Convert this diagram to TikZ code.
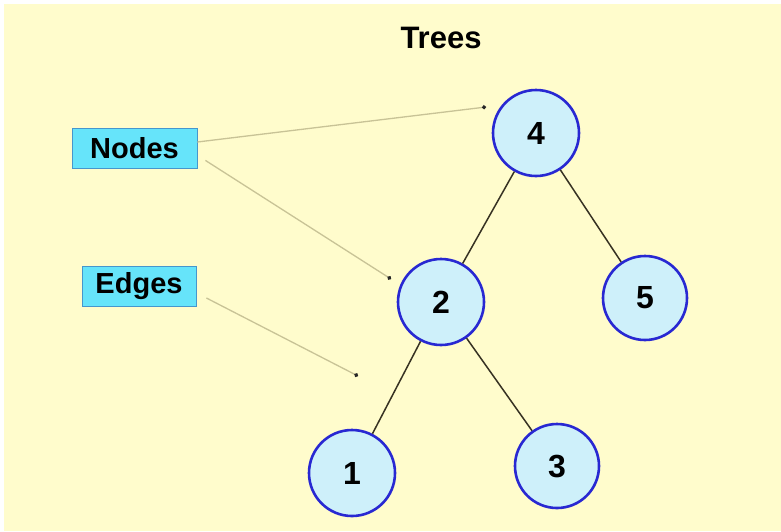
\documentclass[tikz,border=0pt]{standalone}
\usepackage{fontspec}
\setmainfont{Liberation Sans}
\usetikzlibrary{arrows.meta}
\definecolor{paper}{RGB}{255,252,204}
\definecolor{labelfill}{RGB}{102,228,250}
\definecolor{labeledge}{RGB}{70,150,205}
\definecolor{vertexfill}{RGB}{206,240,250}
\definecolor{vertexedge}{RGB}{40,40,210}
\definecolor{pointer}{RGB}{200,195,150}
\definecolor{branch}{RGB}{55,50,35}
\tikzset{
  vertex/.style={circle, draw=vertexedge, line width=2.6pt, fill=vertexfill,
    minimum size=86pt, inner sep=0pt, font=\fontsize{32}{36}\selectfont\bfseries},
  tag/.style={rectangle, draw=labeledge, line width=0.8pt, fill=labelfill,
    inner sep=0pt, font=\fontsize{29}{33}\selectfont\bfseries},
  branchline/.style={draw=branch, line width=1.5pt},
  pointerline/.style={draw=pointer, line width=1.3pt,
    -{Circle[length=4pt, fill=black!85, color=black!85]}}
}
\begin{document}
\begin{tikzpicture}[x=1pt, y=-1pt]
  \useasboundingbox (0,0) rectangle (781,531);
  \fill[white] (0,0) rectangle (781,531);
  \fill[paper] (4,4) rectangle (781,531);

  % title
  \node[font=\fontsize{31}{35}\selectfont\bfseries] (title) at (441,38) {Trees};

  % labels
  \node[tag, minimum width=125pt, minimum height=40pt] (nodes) at (134.5,148) {Nodes};
  \node[tag, minimum width=114pt, minimum height=40pt] (edges) at (139,286) {Edges};

  % tree vertices
  \node[vertex] (v4) at (536,133) {4};
  \node[vertex] (v2) at (441,302) {2};
  \node[vertex, minimum size=84pt] (v5) at (645,298) {5};
  \node[vertex] (v1) at (352,473) {1};
  \node[vertex, minimum size=84pt] (v3) at (557,466) {3};

  % tree branches
  \draw[branchline] (v4) -- (v2);
  \draw[branchline] (v4) -- (v5);
  \draw[branchline] (v2) -- (v1);
  \draw[branchline] (v2) -- (v3);

  % pointer targets
  \coordinate (p4) at (486,107);
  \coordinate (p2) at (391,279);
  \coordinate (pe) at (358,376);

  % pointers
  \draw[pointerline] ([yshift=6pt]nodes.east) -- (p4);
  \draw[pointerline] ([xshift=8pt,yshift=8pt]nodes.south east) -- (p2);
  \draw[pointerline] ([xshift=10pt,yshift=-12pt]edges.east) -- (pe);
\end{tikzpicture}
\end{document}
